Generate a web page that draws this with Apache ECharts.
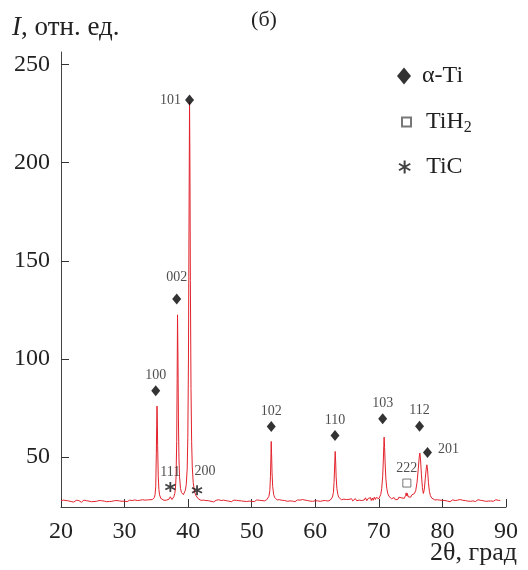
<!DOCTYPE html>
<html>
<head>
<meta charset="utf-8">
<script src="https://cdn.jsdelivr.net/npm/echarts@6/dist/echarts.min.js"></script>
<style>html,body{margin:0;padding:0;background:#fff}#chart{width:528px;height:570px}</style>
</head>
<body>
<div id="chart"></div>
<script>
// ---- data ----
const spectrum = [
[20.0,27.8],[20.2,27.3],[20.4,28.1],[20.6,27.5],[20.8,27.9],[21.0,27.2],[21.2,27.7],[21.4,28.2],[21.6,27.4],[21.8,27.8],
[22.0,27.1],[22.2,27.6],[22.4,28.0],[22.6,27.3],[22.8,27.9],[23.0,27.5],[23.2,27.0],[23.4,27.7],[23.6,28.1],[23.8,27.4],
[24.0,27.8],[24.2,27.2],[24.4,27.6],[24.6,28.0],[24.8,27.3],[25.0,27.7],[25.2,27.4],[25.4,28.1],[25.6,27.5],[25.8,27.2],
[26.0,27.9],[26.2,27.4],[26.4,27.8],[26.6,27.1],[26.8,27.6],[27.0,28.0],[27.2,27.3],[27.4,27.7],[27.6,27.4],[27.8,28.2],
[28.0,27.5],[28.2,27.0],[28.4,27.8],[28.6,27.4],[28.8,27.9],[29.0,27.3],[29.2,27.7],[29.4,28.0],[29.6,27.5],[29.8,28.4],
[30.0,27.6],[30.2,27.9],[30.4,27.3],[30.6,27.8],[30.8,28.1],[31.0,27.4],[31.2,27.9],[31.4,27.5],[31.6,28.2],[31.8,27.6],
[32.0,27.9],[32.2,27.3],[32.4,28.0],[32.6,27.6],[32.8,28.3],[33.0,27.7],[33.2,28.1],[33.4,27.5],[33.6,28.2],[33.8,27.8],
[34.0,28.3],[34.2,27.9],[34.4,28.4],
[34.5,28.4],[34.7,29.5],[34.8,31.0],[34.9,35.0],[35.0,52.0],[35.05,66.0],[35.1,76.0],[35.15,70.0],[35.2,56.0],[35.3,40.0],
[35.4,33.5],[35.5,30.8],[35.7,29.0],[35.85,28.5],[36.0,28.2],[36.2,28.0],[36.4,27.6],[36.6,28.1],[36.8,27.9],[37.0,28.6],
[37.1,29.4],[37.2,29.8],[37.3,29.0],[37.45,28.4],[37.6,28.8],[37.75,29.8],[37.9,31.5],[38.0,34.0],[38.1,40.0],[38.2,58.0],
[38.27,90.0],[38.33,122.5],[38.4,100.0],[38.47,70.0],[38.55,50.0],[38.65,40.0],[38.8,34.0],[38.95,32.0],[39.1,31.2],[39.25,30.9],
[39.4,31.5],[39.55,33.0],[39.7,36.0],[39.85,44.0],[39.95,60.0],[40.05,100.0],[40.15,180.0],[40.22,231.0],[40.28,200.0],[40.35,140.0],
[40.45,85.0],[40.55,58.0],[40.65,45.0],[40.8,37.0],[41.0,32.5],[41.2,30.5],[41.4,29.5],[41.6,28.8],[41.8,28.2],[42.0,28.0],
[42.2,27.6],[42.4,28.1],[42.6,27.4],[42.8,27.9],[43.0,27.3],[43.2,27.8],[43.4,28.2],[43.6,27.5],[43.8,27.9],[44.0,27.2],
[44.2,27.7],[44.4,28.0],[44.6,27.4],[44.8,28.3],[45.0,27.6],[45.2,27.9],[45.4,27.3],[45.6,28.1],[45.8,27.5],[46.0,27.8],
[46.2,28.4],[46.4,27.6],[46.6,27.9],[46.8,27.3],[47.0,27.7],[47.2,28.1],[47.4,27.5],[47.6,28.0],[47.8,27.4],[48.0,27.8],
[48.2,27.2],[48.4,27.7],[48.6,28.2],[48.8,27.5],[49.0,27.9],[49.2,27.4],[49.4,28.0],[49.6,27.6],[49.8,28.3],[50.0,27.5],
[50.2,27.9],[50.4,27.3],[50.6,27.8],[50.8,28.2],[51.0,27.6],[51.2,28.0],[51.4,27.4],[51.6,27.9],[51.8,28.3],[52.0,27.7],
[52.2,28.1],[52.35,28.3],[52.5,28.6],[52.7,30.0],[52.85,33.0],[52.95,40.0],[53.02,50.0],[53.07,58.0],[53.12,52.0],[53.2,42.0],
[53.3,35.0],[53.45,31.0],[53.6,29.5],[53.8,28.6],[54.0,28.2],[54.2,27.9],[54.4,28.3],[54.6,27.6],[54.8,28.0],[55.0,27.4],
[55.2,27.9],[55.4,28.2],[55.6,27.5],[55.8,28.1],[56.0,27.7],[56.2,28.4],[56.4,27.6],[56.6,28.0],[56.8,27.3],[57.0,27.8],
[57.2,28.2],[57.4,27.5],[57.6,28.1],[57.8,27.7],[58.0,28.4],[58.2,27.8],[58.4,28.1],[58.6,27.4],[58.8,27.9],[59.0,28.3],
[59.2,27.6],[59.4,28.0],[59.6,27.5],[59.8,28.2],[60.0,27.8],[60.2,28.4],[60.4,27.7],[60.6,28.0],[60.8,27.5],[61.0,28.1],
[61.2,27.8],[61.4,28.5],[61.6,27.9],[61.8,28.2],[62.0,27.6],[62.2,28.3],[62.35,28.1],[62.5,28.4],[62.7,29.6],[62.85,32.0],
[62.95,37.0],[63.05,46.0],[63.13,52.9],[63.2,48.0],[63.28,40.0],[63.4,34.0],[63.55,31.0],[63.7,29.5],[63.9,28.6],[64.1,28.3],
[64.3,27.8],[64.5,28.6],[64.7,27.9],[64.9,28.4],[65.1,27.6],[65.3,28.5],[65.5,28.0],[65.7,28.8],[65.9,27.7],[66.1,28.4],
[66.3,28.9],[66.5,27.8],[66.7,28.6],[66.9,28.1],[67.1,29.0],[67.3,27.9],[67.5,28.7],[67.7,28.2],[67.9,29.3],[68.1,27.8],
[68.3,28.9],[68.5,28.3],[68.7,29.4],[68.8,27.9],[69.0,29.2],[69.1,28.0],[69.3,29.6],[69.45,28.4],[69.6,29.5],[69.75,28.6],
[69.9,29.3],[70.0,28.8],[70.1,29.5],[70.3,31.0],[70.45,34.0],[70.6,40.0],[70.7,48.0],[70.78,56.0],[70.83,60.2],[70.9,55.0],
[71.0,46.0],[71.1,39.0],[71.25,34.0],[71.4,31.5],[71.6,30.0],[71.8,29.2],[72.0,28.8],[72.2,28.6],[72.4,29.4],[72.6,28.3],
[72.8,29.2],[73.0,28.5],[73.15,29.6],[73.3,28.7],[73.5,29.3],[73.65,28.5],[73.8,29.5],[74.0,29.0],[74.2,30.5],[74.3,31.8],
[74.4,30.2],[74.5,31.5],[74.6,29.8],[74.8,30.5],[75.0,29.6],[75.2,30.8],[75.4,30.5],[75.6,31.5],[75.8,33.0],[76.0,37.0],
[76.2,44.0],[76.35,50.0],[76.45,52.1],[76.55,49.0],[76.7,41.0],[76.85,34.5],[77.0,31.5],[77.15,33.5],[77.3,39.0],[77.45,44.0],
[77.55,46.1],[77.65,44.0],[77.8,37.0],[77.95,32.5],[78.1,30.5],[78.3,29.2],[78.5,28.6],[78.8,28.2],[79.0,27.9],[79.2,28.3],
[79.4,27.6],[79.6,28.1],[79.8,27.5],[80.0,28.0],[80.2,27.4],[80.4,27.9],[80.6,28.3],[80.8,27.6],[81.0,28.0],[81.2,27.3],
[81.4,27.8],[81.6,28.2],[81.8,27.5],[82.0,27.9],[82.2,27.4],[82.4,28.1],[82.6,27.6],[82.8,28.4],[83.0,27.7],[83.2,28.0],
[83.4,27.4],[83.6,27.9],[83.8,28.3],[84.0,27.6],[84.2,28.0],[84.4,27.5],[84.6,28.2],[84.8,27.7],[85.0,28.1],[85.2,27.4],
[85.4,27.9],[85.6,28.3],[85.8,27.6],[86.0,28.0],[86.2,27.3],[86.4,27.8],[86.6,28.2],[86.8,27.5],[87.0,28.0],[87.2,27.6],
[87.4,28.4],[87.6,27.7],[87.8,28.1],[88.0,27.5],[88.2,27.9],[88.4,28.3],[88.6,28.6],[88.8,28.0],[89.0,27.5],[89.1,27.9]
];

const alphaTiPos = [[34.9,83.8],[38.2,130.6],[40.22,231.9],[53.07,65.6],[63.1,61.0],[70.6,69.5],[76.4,65.8],[77.65,52.4]];
const alphaTiHkl = ['100','002','101','102','110','103','112','201'];
const tiH2Pos = [[74.4,36.8]];
const tiH2Hkl = ['222'];
const tiCPos = [[37.2,34.8],[41.4,33.1]];
const tiCHkl = ['111','200'];

const xTicks = [20,30,40,50,60,70,80,90];
const yTicks = [50,100,150,200,250];
const seriesNames = ['α-Ti','TiH2','TiC'];

// ---- styling / layout ----
const SERIF = '"Liberation Serif","Times New Roman",serif';
const TXT = '#222';
const labelPlace = {
  '101': {position:'left', distance:4},
  '201': {position:'right', distance:6, offset:[0,-3]},
  '002': {position:'top', distance:9},
  '200': {position:'top', distance:6, offset:[8,0]},
  '111': {position:'top', distance:2}
};
function hklLabel(txt){
  const p = labelPlace[txt] || {position:'top', distance:3};
  return Object.assign({show:true, formatter:txt, fontFamily:SERIF, fontSize:14, color:TXT}, p);
}
function markData(pos, hkl){
  return pos.map((p,i)=>({value:p, label:hklLabel(hkl[i])}));
}
const ASTER = 'path://M5,0 L5,10 M0.67,2.5 L9.33,7.5 M0.67,7.5 L9.33,2.5';

const chart = echarts.init(document.getElementById('chart'), null, {renderer:'canvas'});
const legendText = (pad)=>({fontFamily:SERIF, fontSize:24, color:TXT, padding:[0,0,0,pad],
    rich:{n:{fontFamily:SERIF,fontSize:24,color:TXT}, s:{fontFamily:SERIF,fontSize:16,color:TXT,verticalAlign:'bottom',padding:[12,0,0,0]}}});
const legendCommon = {orient:'vertical', itemGap:0, selectedMode:false};
chart.setOption({
  animation:false,
  backgroundColor:'#fff',
  title:{text:'(б)', left:'center', top:4, textStyle:{fontFamily:SERIF, fontSize:22, fontWeight:'normal', color:TXT}},
  legend:[
    Object.assign({}, legendCommon, {top:59, left:392, data:[seriesNames[0]], itemWidth:14, itemHeight:17, textStyle:legendText(6)}),
    Object.assign({}, legendCommon, {top:105, left:396, data:[seriesNames[1]], itemWidth:9, itemHeight:9,
      formatter:()=> '{n|TiH}{s|2}', textStyle:legendText(10)}),
    Object.assign({}, legendCommon, {top:150, left:393, data:[seriesNames[2]], itemWidth:13, itemHeight:13, textStyle:legendText(10)})
  ],
  grid:{left:61, right:22, top:52, bottom:63, containLabel:false},
  xAxis:{
    type:'value', min:20, max:90, interval:10,
    axisLine:{lineStyle:{color:'#444', width:1}},
    axisTick:{inside:true, length:8, lineStyle:{color:'#333'}},
    axisLabel:{fontFamily:SERIF, fontSize:24, color:TXT, margin:13, customValues:xTicks},
    splitLine:{show:false}
  },
  yAxis:{
    type:'value', min:24.6, max:256.4,
    axisLine:{show:true, lineStyle:{color:'#444', width:1}},
    axisTick:{show:true, inside:true, length:8, lineStyle:{color:'#333'}, customValues:yTicks},
    axisLabel:{fontFamily:SERIF, fontSize:24, color:TXT, margin:11, customValues:yTicks},
    splitLine:{show:false}
  },
  graphic:[
    {type:'text', left:12, top:14, style:{
      text:'{i|I}{r|, отн. ед.}', fontFamily:SERIF, fontSize:26, fill:TXT,
      rich:{i:{fontFamily:SERIF, fontSize:27, fontStyle:'italic', color:TXT}, r:{fontFamily:SERIF, fontSize:27, color:TXT}}}},
    {type:'text', right:11, top:540, style:{text:'2θ, град', fontFamily:SERIF, fontSize:26, fill:TXT}}
  ],
  series:[
    {type:'line', name:'spectrum', data:spectrum, showSymbol:false, symbol:'none', silent:true,
     lineStyle:{color:'#e3222c', width:1}, z:2},
    {type:'scatter', name:seriesNames[0], data:markData(alphaTiPos, alphaTiHkl), symbol:'diamond', symbolSize:[9,11],
     itemStyle:{color:'#000'}, z:5},
    {type:'scatter', name:seriesNames[1], data:markData(tiH2Pos, tiH2Hkl), symbol:'rect', symbolSize:8,
     itemStyle:{color:'#fff', borderColor:'#555', borderWidth:1}, z:5},
    {type:'scatter', name:seriesNames[2], data:markData(tiCPos, tiCHkl), symbol:ASTER, symbolSize:10,
     itemStyle:{color:'rgba(0,0,0,0)', borderColor:'#111', borderWidth:1.8}, z:5}
  ]
});
</script>
</body>
</html>
